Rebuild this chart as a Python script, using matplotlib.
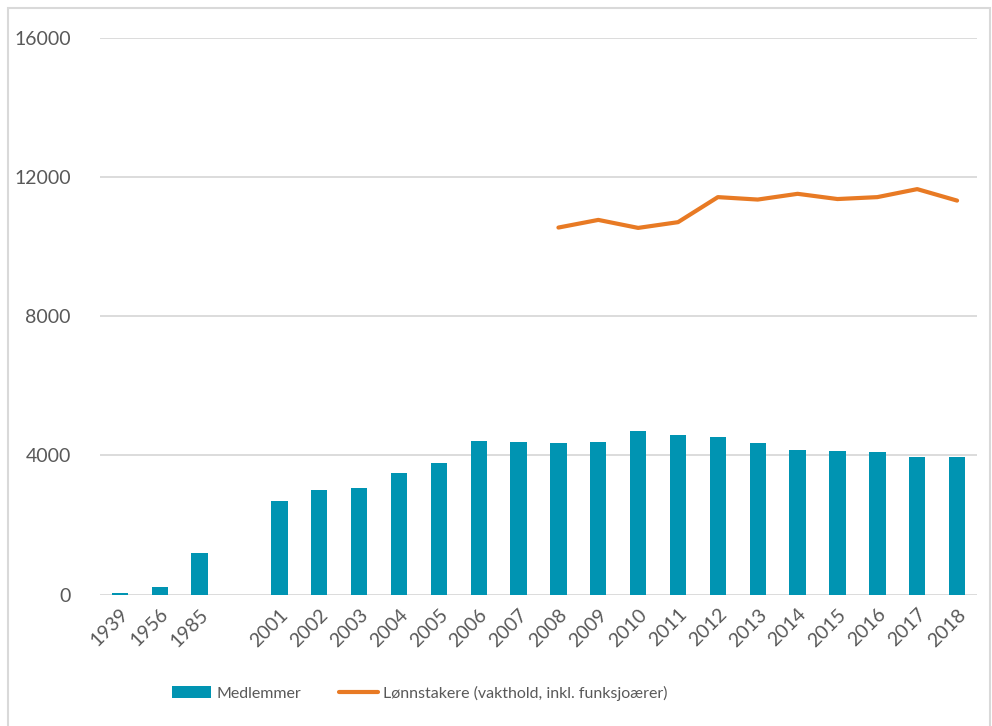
import numpy as np
import matplotlib
matplotlib.use("Agg")
import matplotlib.pyplot as plt
from matplotlib.patches import Rectangle

plt.rcParams['font.family'] = ['Lato', 'DejaVu Sans']

# categories (one empty slot between 1985 and 2001)
years = ['1939', '1956', '1985', '',
         '2001', '2002', '2003', '2004', '2005', '2006', '2007', '2008', '2009',
         '2010', '2011', '2012', '2013', '2014', '2015', '2016', '2017', '2018']

medlemmer = [40, 230, 1200, np.nan,
             2690, 3015, 3070, 3505, 3780, 4425, 4385, 4355, 4385,
             4690, 4600, 4515, 4355, 4155, 4120, 4100, 3955, 3955]

lonnstakere = [np.nan] * 11 + [10550, 10770, 10540, 10705, 11425, 11355,
                               11520, 11370, 11425, 11655, 11325]

bar_color = '#0094B2'
line_color = '#E87A24'
grey_txt = '#595959'
grid_col = '#D9D9D9'

W, H = 992, 726
fig = plt.figure(figsize=(W / 100, H / 100), dpi=100)

# chart area border
fig.patches.append(Rectangle((8 / W, -0.01), (990 - 8) / W, 1 - 8 / H + 0.01,
                             transform=fig.transFigure, fill=False,
                             edgecolor='#D9D9D9', lw=1.5))

ax = fig.add_axes([100 / W, 1 - 594.5 / H, (977 - 100) / W, (594.5 - 38) / H])

x = np.arange(len(years))
bars = ax.bar(x, medlemmer, width=0.41, color=bar_color, zorder=3)
line, = ax.plot(x, lonnstakere, color=line_color, lw=3, solid_capstyle='round',
                zorder=4)

ax.set_xlim(-0.5, len(years) - 0.5)
ax.set_ylim(0, 16000)
ax.set_yticks([0, 4000, 8000, 12000, 16000])
ax.yaxis.grid(True, color=grid_col, lw=1.3, zorder=0)
ax.set_axisbelow(True)
for s in ax.spines.values():
    s.set_visible(False)

ax.set_xticks(x)
ax.set_xticklabels(years, rotation=45, ha='right', rotation_mode='anchor')
ax.tick_params(axis='x', length=0, pad=8, labelsize=14, labelcolor=grey_txt)
ax.tick_params(axis='y', length=0, pad=21, labelsize=14, labelcolor=grey_txt)

leg = fig.legend([bars, line],
                 ['Medlemmer', 'Lønnstakere (vakthold, inkl. funksjoærer)'],
                 loc='center', bbox_to_anchor=(420 / W, 1 - 693 / H), ncol=2,
                 frameon=False, fontsize=11.5, handlelength=2.45,
                 handletextpad=0.3, columnspacing=2.4)
for t in leg.get_texts():
    t.set_color(grey_txt)

fig.savefig('out.png', dpi=100)
